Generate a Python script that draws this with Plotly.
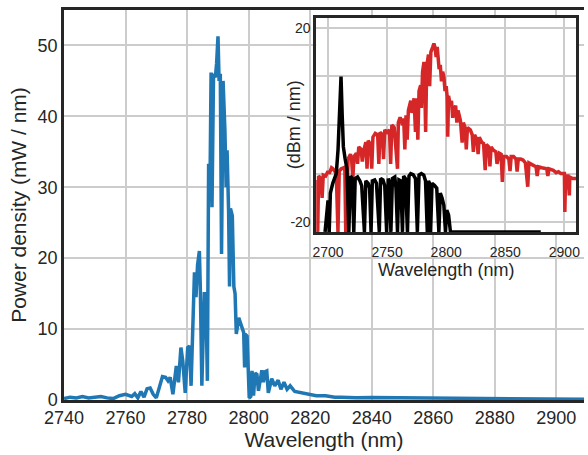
import plotly.graph_objects as go

# main spectrum (mW / nm)
blue_wl = [2740, 2742, 2744, 2746, 2748, 2750, 2752, 2754, 2756, 2758, 2760, 2762, 2763, 2764,
           2765, 2766, 2767, 2768, 2769, 2770, 2771, 2772, 2773, 2773.8, 2774.5, 2775.4, 2776,
           2776.5, 2777.2, 2778, 2778.6, 2779.4, 2780.2, 2780.8, 2781.3, 2782.0, 2782.4, 2782.9,
           2783.4, 2784.0, 2784.3, 2784.8, 2785.6, 2786.1, 2786.6, 2787.0, 2787.4, 2787.8, 2788.1,
           2788.6, 2789.2, 2789.6, 2790.05, 2790.4, 2790.8, 2791.2, 2791.7, 2792.3, 2792.7, 2793.0,
           2793.5, 2793.8, 2794.1, 2794.7, 2795.2, 2795.6, 2796.0, 2796.8, 2797.9, 2798.4, 2798.7,
           2798.9, 2799.5, 2800.2, 2800.7, 2801.1, 2801.6, 2802.1, 2802.7, 2803.2, 2804.3, 2804.8,
           2805.4, 2805.9, 2806.4, 2807.5, 2808.5, 2809.6, 2810.5, 2811.5, 2812.5, 2813.5, 2815,
           2817, 2820, 2822, 2825, 2828, 2830, 2835, 2840, 2850, 2860, 2870, 2880, 2890, 2900, 2909]
blue_pd = [0.2, 0.4, 0.3, 0.5, 0.3, 0.4, 0.5, 0.3, 0.2, 0.6, 0.8, 0.5, 0.9, 0.3,
           1.2, 0.4, 1.6, 1.7, 0.8, 0.3, 2.0, 3.3, 3.2, 2.7, 3.2, 0.8, 3.0,
           4.8, 2.5, 7.4, 5.5, 1.0, 7.4, 7.6, 2.0, 12.0, 18.0, 14.5,
           19.0, 21.0, 15.9, 2.0, 15.0, 15.0, 2.7, 33.3, 28.0, 46.2, 27.2,
           46.0, 45.5, 47.5, 51.3, 45.0, 46.0, 20.6, 45.0, 38.0, 30.0, 35.2,
           26.5, 16.0, 27.0, 26.0, 16.0, 15.0, 9.3, 11.6, 10.2, 9.5, 4.6,
           9.3, 9.0, 0.3, 0.5, 4.1, 0.6, 3.8, 3.6, 1.3, 4.2, 2.5,
           4.0, 4.1, 1.0, 3.0, 2.0, 2.8, 1.5, 2.5, 1.5, 2.0, 1.2,
           1.0, 0.7, 0.6, 0.6, 0.4, 0.4, 0.3, 0.35, 0.3, 0.25, 0.2, 0.2, 0.15, 0.15, 0.1]

# inset, red spectrum (dBm / nm)
red_wl = [2690, 2691.3, 2692, 2694, 2695, 2696, 2698, 2700, 2701, 2703, 2704.2, 2706, 2707,
          2708.4, 2709.5, 2711.2, 2713, 2714.2, 2715, 2716, 2717, 2719, 2720, 2721, 2722, 2724,
          2725, 2726, 2728, 2729, 2730, 2732, 2733, 2734, 2736, 2737, 2738, 2740, 2742, 2743,
          2744, 2746, 2747, 2748, 2750, 2752, 2753, 2754, 2756, 2758.8, 2759.5, 2761, 2763, 2764,
          2765, 2766, 2767, 2768, 2770, 2771, 2772.8, 2774, 2775, 2776, 2777, 2778.4, 2779, 2780,
          2781.2, 2782, 2782.6, 2783.5, 2785, 2786, 2787, 2788.5, 2789.6, 2790.5, 2791.5, 2792.4,
          2793, 2794, 2795, 2796, 2797, 2798, 2799, 2800, 2800.8, 2801.3, 2802, 2803.5, 2804.5,
          2805.5, 2806.4, 2808, 2809, 2810, 2812, 2813.5, 2814.5, 2816, 2817, 2818, 2820.4, 2822,
          2823, 2824, 2826, 2827, 2828, 2830, 2831.6, 2833, 2834, 2836, 2837, 2838, 2840, 2842,
          2843, 2845, 2846.5, 2847.5, 2848.5, 2851, 2853, 2854, 2855, 2857, 2859, 2860, 2861,
          2863, 2865, 2867, 2869, 2870, 2873, 2876, 2877, 2878, 2881, 2885, 2886, 2887, 2890.6,
          2893, 2895, 2897, 2900, 2900.4, 2901, 2903, 2904.2, 2904.6, 2907, 2910]
red_db = [-11.3, -22, -10.5, -11, -15, -10.3, -10.5, -9.5, -10, -8.8, -9, -9.5, -10,
          -22, -9.5, -9, -8.8, -8.7, -22, -11, -7, -6, -7.2, -11, -6.5, -5.8,
          -8, -4.5, -5, -7.5, -5.5, -3.5, -9, -3.2, -4, -9, -2.5, -1.7, -2, -8,
          -1.5, -2, -7, -1, -1.5, -1, -8, 0, -0.5, -9, 0.5, 1.6, 0, 1.4,
          -5, 2, -3, 3, 5, 2.5, 5.5, -1.4, 5.5, -3, 7, 8.2, 3.5, 11,
          13, 6, -1.4, 12, 14.5, 8, 15, 16, 16.8, 16, 14, 16.1,
          13, 11.5, 12.4, 9, 11, 10, 7, 8, 5.8, -2.4, 6, 4, 5,
          1.5, 3.1, 4, 0.5, 3, 1, -3.6, 0.5, -0.5, -5, -0.5, -1, -2,
          -5.5, -2, -3, -6, -2.5, -3.5, -3.8, -9.3, -4, -4.5, -8.5, -4.5, -5.2, -5.5,
          -8, -5.8, -6, -11.7, -6.5, -6.5, -7, -9.5, -6.5, -6.5, -7, -9.6, -7,
          -7, -7.2, -7.8, -12.7, -7.8, -8.2, -8.6, -10.5, -8.6, -8.8, -9, -10.5, -9, -9.3,
          -9.8, -9.6, -10, -10, -17.9, -10.5, -10.5, -14.5, -10.7, -11, -11]

# inset, black spectrum (dBm / nm)
black_wl = [2697.5, 2699, 2700, 2701, 2702, 2704, 2706, 2707, 2708.5, 2710, 2711, 2712, 2713,
            2714.5, 2716, 2717.6, 2719, 2720.5, 2721.8, 2723, 2725, 2727, 2728.5, 2730.8, 2732,
            2734, 2735.2, 2736.4, 2737.5, 2739.5, 2741, 2743.4, 2744.5, 2746.5, 2748, 2749.6,
            2751, 2752.2, 2753.2, 2754.5, 2756.5, 2757.5, 2758.8, 2760, 2761.5, 2763, 2764,
            2765.5, 2767.2, 2768.5, 2770, 2772, 2774, 2775.6, 2777, 2779, 2781, 2782.5, 2784,
            2785, 2786, 2786.8, 2788, 2790, 2792, 2793.8, 2795, 2796.5, 2798, 2799.4, 2800.5,
            2802, 2803.6, 2810, 2880]
black_db = [-22, -18, -15.5, -22, -14, -12, -10.5, -10, -5, 5, 10, 2, -4.5,
            -7, -9, -22, -10.5, -11, -22, -11, -10.7, -11.5, -12.5, -22, -11.5,
            -12, -13, -22, -11.5, -11.3, -12, -22, -11, -11.3, -12.5, -22,
            -11, -12, -22, -11, -10.7, -13, -22, -11.3, -11.5, -22, -10.5,
            -11, -22, -10.5, -10, -10.2, -11, -22, -10.3, -10, -10.3, -11.5, -22,
            -11.5, -12, -22, -12, -12.4, -13, -22, -14, -15, -16.5, -22, -17.5,
            -18.5, -22, -22, -22]

font = "Liberation Sans, Arial, sans-serif"
ink = "#262626"
grid = "#cccccc"

fig = go.Figure()
fig.add_trace(go.Scatter(x=blue_wl, y=blue_pd, mode="lines",
                         line=dict(color="#1f77b4", width=3.5), showlegend=False))
fig.add_trace(go.Scatter(x=red_wl, y=red_db, mode="lines", xaxis="x2", yaxis="y2",
                         line=dict(color="#d62728", width=3.5), showlegend=False))
fig.add_trace(go.Scatter(x=black_wl, y=black_db, mode="lines", xaxis="x2", yaxis="y2",
                         line=dict(color="black", width=3.5), showlegend=False))

fig.update_layout(
    width=588, height=455,
    margin=dict(l=64, r=0, t=10, b=55),
    paper_bgcolor="white", plot_bgcolor="white",
    font=dict(family=font, color=ink),
    xaxis=dict(domain=[0, 1], range=[2740, 2909], dtick=20, tick0=2740,
               showgrid=True, gridcolor=grid, gridwidth=1.5, zeroline=False,
               showline=True, linecolor=ink, linewidth=2.5, mirror=True, ticks="",
               tickfont=dict(size=18), title=dict(text="Wavelength (nm)", font=dict(size=21), standoff=2)),
    yaxis=dict(domain=[0, 1], range=[0, 55], dtick=10,
               showgrid=True, gridcolor=grid, gridwidth=1.5, zeroline=False,
               showline=True, linecolor=ink, linewidth=2.5, ticks="",
               tickfont=dict(size=18), title=dict(text="Power density (mW / nm)", font=dict(size=21), standoff=6)),
    xaxis2=dict(domain=[0.485, 0.985], anchor="y2", range=[2690, 2910],
                tickvals=[2700, 2750, 2800, 2850, 2900],
                showgrid=True, gridcolor=grid, gridwidth=1.5, zeroline=False,
                showline=True, linecolor=ink, linewidth=2.5, mirror=True, ticks="",
                ticklabelstandoff=6,
                tickfont=dict(size=14), title=dict(text="Wavelength (nm)", font=dict(size=18), standoff=4)),
    yaxis2=dict(domain=[0.431, 0.979], anchor="x2", range=[-22, 22],
                tickvals=[-20, -10, 0, 10, 20], ticktext=["-20", "", "", "", "20"],
                showgrid=True, gridcolor=grid, gridwidth=1.5, zeroline=False,
                showline=True, linecolor=ink, linewidth=2.5, mirror=True, ticks="",
                tickfont=dict(size=14)),
)

# inset y label sits between its two tick labels, so place it by hand
fig.add_annotation(text="(dBm / nm)", xref="paper", yref="paper", x=0.4427, y=0.705,
                   xanchor="center", yanchor="middle",
                   textangle=-90, showarrow=False, font=dict(size=18, color=ink))

# page has a default 8px body margin; drop it so the figure sits at 0,0
fig.write_html("out.html", config={"displayModeBar": False},
               post_script="document.body.style.margin='0px';")
